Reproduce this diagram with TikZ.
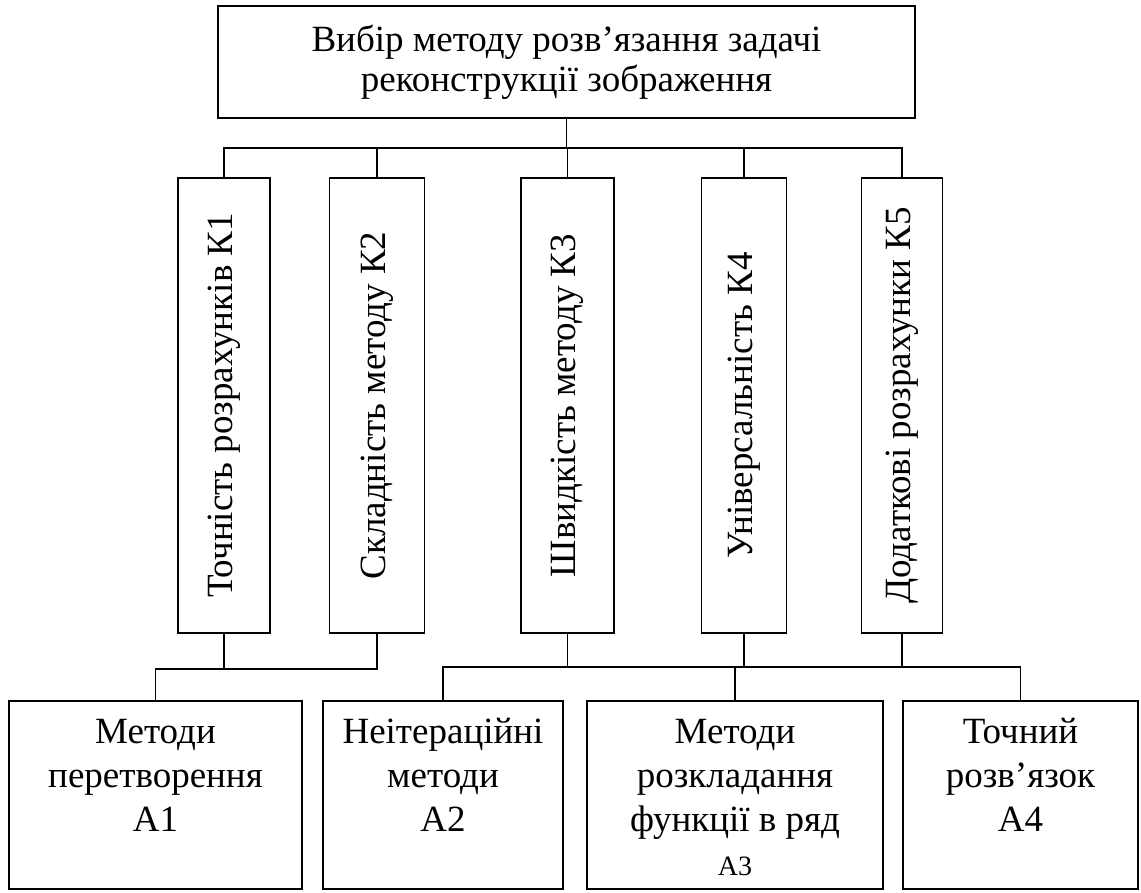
\documentclass[tikz,border=0pt]{standalone}
\usepackage{fontspec}
\setmainfont{Liberation Serif}
\usepackage{graphicx}
\usetikzlibrary{positioning}
\tikzset {
ziel/.style={shape=rectangle,draw,minimum width=697pt,minimum height=112pt,align=center,font=\fontsize{37}{40}\selectfont},
kriterium/.style={shape=rectangle,draw,minimum height=455pt,inner sep=0pt,font=\fontsize{37}{44}\selectfont},
alternative/.style={shape=rectangle,draw,minimum height=188pt,inner sep=0pt,font=\fontsize{37}{44}\selectfont}
}
\newcommand\obentext[2]{\parbox[c][188pt][t]{#1pt}{\centering\vspace*{12pt}\strut #2}}

\begin{document}
\begin{tikzpicture}
[x=1pt,y=-1pt,line width=1.1pt]
\useasboundingbox (0,0) rectangle (1141,892);
\node[ziel] (goal) at (566.5,62) {Вибір методу розв’язання задачі\\реконструкції зображення};

\node[kriterium,minimum width=92pt] (k1) at (224,405.5) {\rotatebox{90}{Точність розрахунків К1}};
\node[kriterium,minimum width=95pt] (k2) at (377,405.5) {\rotatebox{90}{Складність методу К2}};
\node[kriterium,minimum width=93pt] (k3) at (567.5,405.5) {\rotatebox{90}{Швидкість методу К3}};
\node[kriterium,minimum width=85pt] (k4) at (744,405.5) {\rotatebox{90}{Універсальність К4}};
\node[kriterium,minimum width=81pt] (k5) at (902,405.5) {\rotatebox{90}{Додаткові розрахунки К5}};

\node[alternative,minimum width=293pt] (a1) at (155.5,795) {\obentext{280}{Методи\\перетворення\\А1}};
\node[alternative,minimum width=240pt] (a2) at (443,795) {\obentext{232}{Неітераційні\\методи\\А2}};
\node[alternative,minimum width=296pt] (a3) at (735,795) {\obentext{285}{Методи\\розкладання\\функції в ряд\\{\fontsize{28}{39}\selectfont А3}}};
\node[alternative,minimum width=235pt] (a4) at (1020.5,795) {\obentext{225}{Точний\\розв’язок\\А4}};

\coordinate (top bus) at (0,148);
\coordinate (left bus) at (0,669);
\coordinate (right bus) at (0,667);

\draw (goal.south) -- (goal.south |- top bus) -| (k1.north);
\draw (goal.south |- top bus) -| (k2.north);
\draw (goal.south |- top bus) -| (k3.north);
\draw (goal.south |- top bus) -| (k4.north);
\draw (goal.south |- top bus) -| (k5.north);

\draw (k1.south) -- (k1.south |- left bus) -| (a1.north);
\draw (k2.south) -- (k2.south |- left bus) -| (a1.north);

\draw (a2.north) -- (a2.north |- right bus) -- (a4.north |- right bus) -- (a4.north);
\draw (a3.north) -- (a3.north |- right bus);
\draw (k3.south) -- (k3.south |- right bus);
\draw (k4.south) -- (k4.south |- right bus);
\draw (k5.south) -- (k5.south |- right bus);
\end{tikzpicture}
\end{document}
